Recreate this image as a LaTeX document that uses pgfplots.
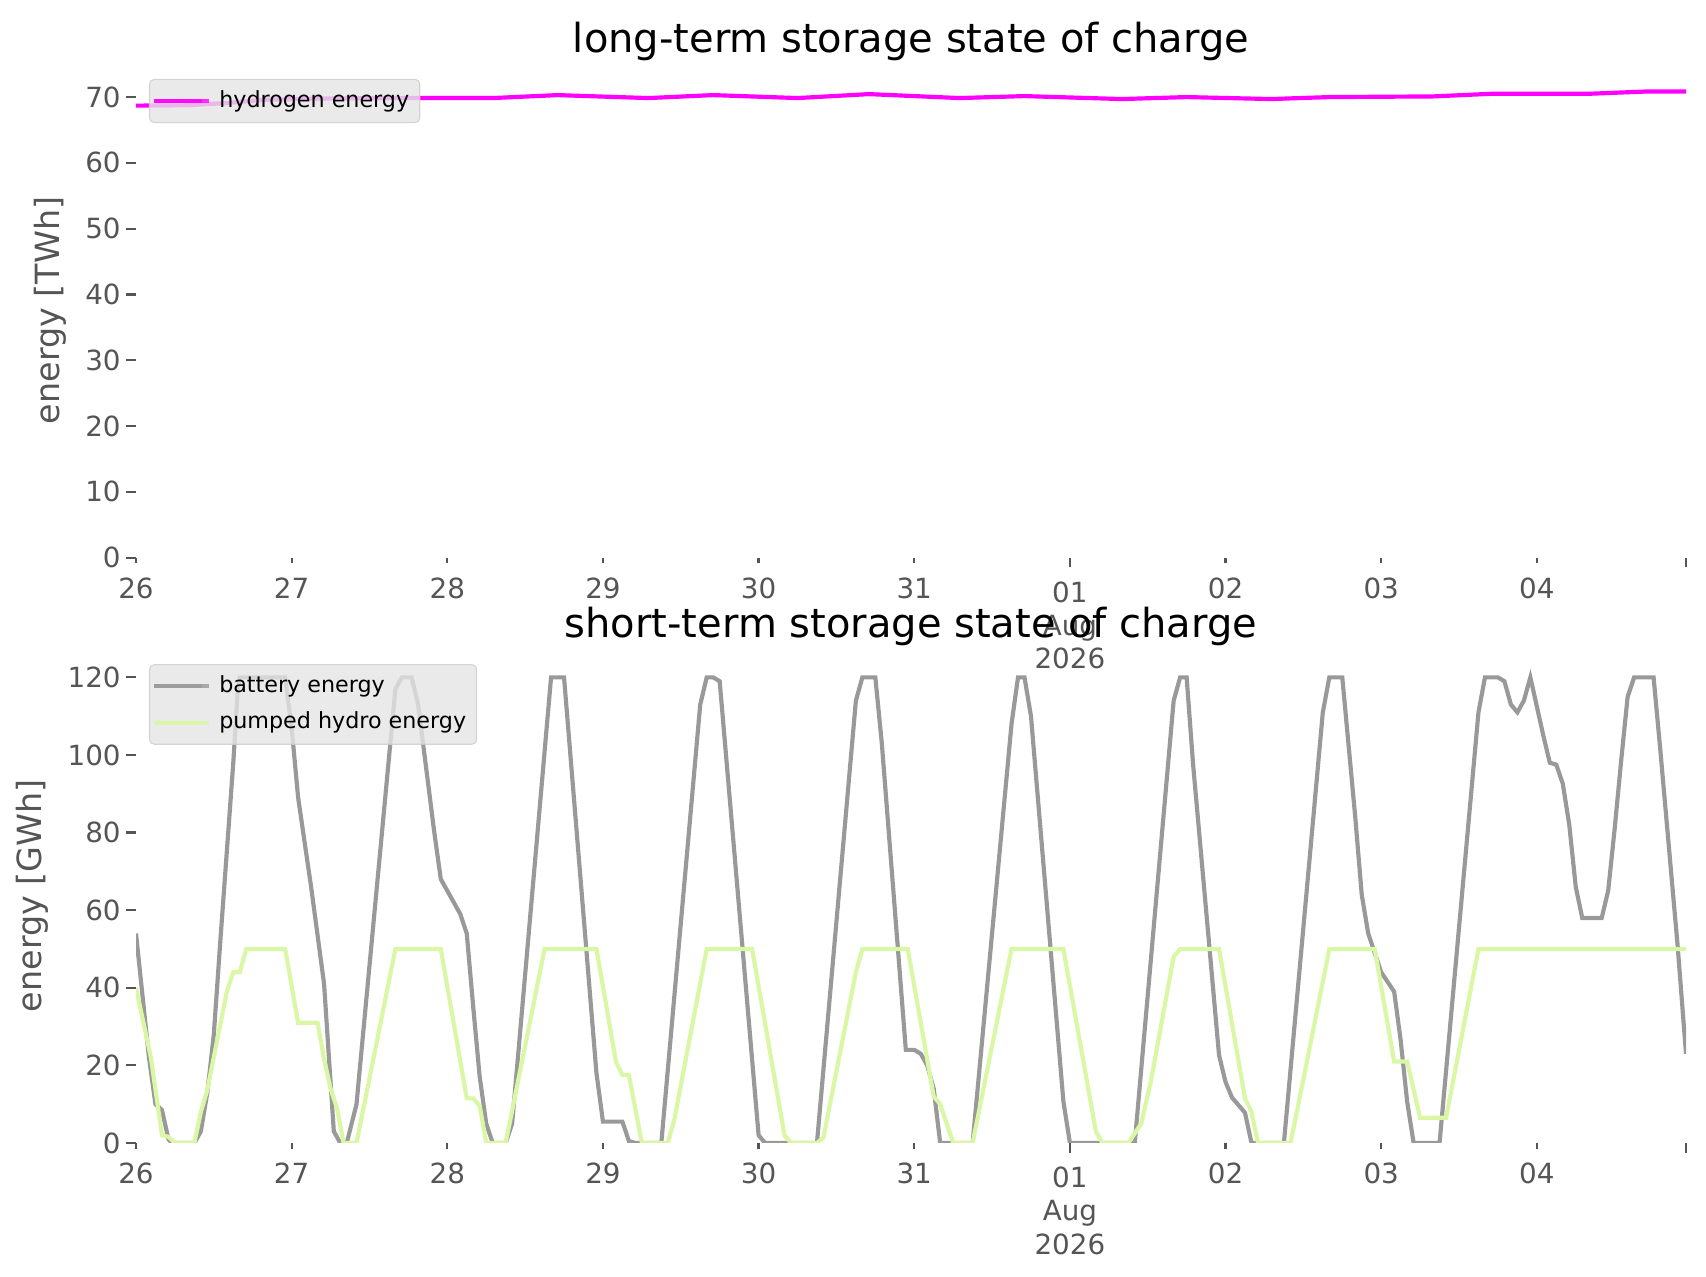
\documentclass[border=0pt]{standalone}
\usepackage{fontspec}
\setmainfont{DejaVu Sans}
\usepackage{pgfplots}
\pgfplotsset{compat=1.18}
\definecolor{tickgray}{HTML}{555555}
\definecolor{batt}{HTML}{999999}
\definecolor{phes}{HTML}{DAF7A6}
\definecolor{hyd}{HTML}{FF00FF}
\definecolor{legfill}{HTML}{E5E5E5}
\definecolor{legedge}{HTML}{CCCCCC}
\pgfplotsset{
  storestyle/.style={
    scale only axis, width=558pt, height=176pt,
    xmin=0, xmax=239, ymin=0, enlargelimits=false,
    axis lines*=left, axis line style={draw=none},
    tick align=outside,
    major tick length=2pt,
    tick style={color=tickgray, line width=0.8pt},
    ytick style={/pgfplots/major tick length=3.5pt},
    xtick={0,24,48,72,96,120,168,192,216},
    xticklabels={26,27,28,29,30,31,02,03,04},
    extra x ticks={144,239},
    extra x tick labels={{01\\Aug\\2026},{}},
    extra x tick style={major tick length=3.5pt},
    xticklabel style={align=center, font=\fontsize{10}{12}\selectfont, text=tickgray, yshift=-1.6pt},
    yticklabel style={font=\fontsize{10}{12}\selectfont, text=tickgray},
    /pgf/number format/assume math mode=true,
    ylabel style={font=\fontsize{12}{14.4}\selectfont, text=tickgray, xshift=1pt},
    title style={at={(0.5,1)}, anchor=base, font=\fontsize{14.4}{17.28}\selectfont, text=black},
    legend cell align=left,
    legend image code/.code={\draw[#1, line width=1.5pt] (0pt,0pt) -- (17.2pt,0pt);
      \path (0pt,0pt) -- (19.8pt,0pt);},
    legend style={at={(13/558*0.36,1-10*0.36/176)}, anchor=north west,
      fill=legfill, fill opacity=0.8, draw=legedge, draw opacity=0.8, text opacity=1,
      rounded corners=1.7pt, font=\fontsize{8}{9.6}\selectfont,
      inner xsep=0.8pt, inner ysep=2pt, row sep=1.5pt,
      nodes={inner xsep=3pt}},
  }
}
\begin{document}
\begin{tikzpicture}
\useasboundingbox (0,0) rectangle (614.16pt,459.72pt);
% ---------------- top axis ----------------
\begin{axis}[storestyle, at={(48.96pt,258.95pt)}, anchor=south west,
  ymax=74.3, ytick={0,10,...,70},
  title={long-term storage state of charge},
  ylabel={energy [TWh]}]
\addplot[hyd, line width=1.5pt] coordinates {
(0,68.7) (8,68.75) (14,69.1) (20,69.6) (30,69.8) (43,69.85) (55,69.85) (65,70.3)
(79,69.85) (89,70.3) (102,69.85) (113,70.45) (127,69.85) (137,70.15) (152,69.7)
(162,70.0) (175,69.7) (184,70.0) (200,70.1) (209,70.5) (224,70.5) (233,70.85) (239,70.85)};
\addlegendentry{hydrogen energy}
\end{axis}
% ---------------- bottom axis ----------------
\begin{axis}[storestyle, at={(48.96pt,48.24pt)}, anchor=south west,
  ymax=126, ytick={0,20,...,120},
  title={short-term storage state of charge},
  ylabel={energy [GWh]}]
\addplot[batt, line width=1.5pt] coordinates {
(0,54) (1,38) (2,22) (3,10) (4,8.5) (5,1) (5.5,0) (9,0) (10,3) (11,13) (12,28) (13,52)
(14,75) (15,98) (15.7,117) (16,120) (23,120) (24,107) (25,89) (27,66) (29,41) (30.5,3)
(31.5,0) (32.5,0) (34,10) (40,117) (41,120) (42.5,120) (43.5,113) (46,80) (47,68) (50,59)
(51,54) (52,35) (53,17) (54,5) (55,0) (57,0) (58,5) (64,120) (66,120) (71,18) (72,5.5)
(75,5.5) (76,0.5) (77,0) (81,0) (87,113) (88,120) (89,120) (90,119) (96,2) (97,0)
(105,0) (111,114) (112,120) (114,120) (115,103) (118.7,24) (120,24) (121,23) (122,20)
(123,14) (124,0) (129,0) (135,108) (136,120) (137,120) (138,110) (143,10.7) (144,0)
(154,0) (160,114) (161,120) (162,120) (163,97.5) (167,22.6) (168,15.7) (169,11.7)
(171,7.8) (172,0) (177,0) (183,111) (184,120) (186,120) (188,84) (189,64) (190,54)
(192,44) (194,39) (195,26.5) (196,10.7) (197,0) (201,0) (207,111) (208,120) (210,120)
(211,119) (212,113) (213,111) (214,114) (215,120) (217,105) (218,98) (219,97.5)
(220,92.6) (221,82) (222,66) (223,58) (226,58) (227,65) (228,81) (229,98.5) (230,115)
(231,120) (234,120) (235,102) (237.7,51) (239,23)};
\addlegendentry{battery energy}
\addplot[phes, line width=1.5pt] coordinates {
(0,40) (2.3,22) (4,2) (5,1.6) (6,0) (9,0) (10,8) (11,13.7) (14,39) (15,44) (16,44)
(17,50) (23,50) (25,31) (28,31) (29,21.6) (30,14) (31,9) (32,0) (34,0) (40,50) (47,50)
(51,11.5) (52,11.5) (53,9.5) (54,0) (57,0) (63,50) (71,50) (74,21) (75,17.5) (76,17.5)
(78,0) (82,0) (83,6) (88,50) (95,50) (100,2) (101,0) (105,0) (106,1.4) (111,44) (112,50)
(119,50) (123,12) (124,10) (126,0) (129,0) (135,50) (143,50) (148,3) (149,0) (153,0)
(155,5) (156.5,16) (160,48) (161,50) (167,50) (171,11.5) (172,8) (173,0) (178,0) (179,8)
(184,50) (191,50) (194,21) (196,21) (198,6.5) (202,6.5) (207,50) (239,50)};
\addlegendentry{pumped hydro energy}
\end{axis}
\end{tikzpicture}
\end{document}
